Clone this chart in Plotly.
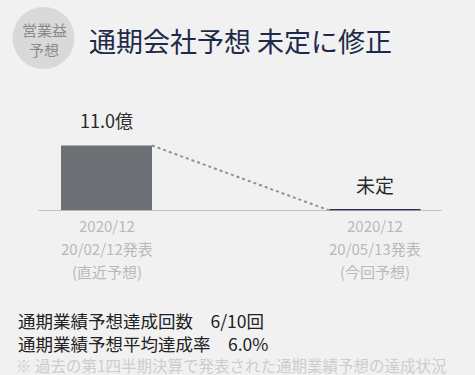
import plotly.graph_objects as go

# ---- data ----
tick_lines = [["2020/12", "20/02/12発表", "(直近予想)"],
              ["2020/12", "20/05/13発表", "(今回予想)"]]
values = [11.0, 0.22]          # second forecast is undetermined (shown as a flat marker)
value_labels = ["11.0億", "未定"]
bar_colors = ["#6d7075", "#2a3152"]
title_text = "通期会社予想 未定に修正"
badge_lines = ["営業益", "予想"]
stats_lines = ["通期業績予想達成回数　6/10回", "通期業績予想平均達成率　6.0%"]
footnote = "※ 過去の第1四半期決算で発表された通期業績予想の達成状況"

W, H = 475, 375
FONT = "Noto Sans CJK JP"
BG = "#f1f1f1"


def px(x):
    return x / W


def py(y):
    return 1 - y / H


# plot area geometry (pixels)
L, R = 38, 442
T, B = 100, 210.5
xpos = [0, 1]
c0, c1 = 106.5, 375.0
ppu = c1 - c0
x0 = (L - c0) / ppu
x1 = (R - c0) / ppu
bw = 91 / ppu
ymax = 11.0 * (B - T) / (B - 145.5)

fig = go.Figure()
fig.add_trace(go.Bar(x=xpos, y=values, width=bw,
                     marker=dict(color=bar_colors, line=dict(width=0)),
                     hoverinfo="skip"))
# dashed connector
fig.add_trace(go.Scatter(x=[xpos[0] + bw / 2, xpos[1] - bw / 2], y=[values[0], 0],
                         mode="lines", line=dict(color="#8e9196", width=2, dash="3px,3px"),
                         hoverinfo="skip"))

annotations = []
label_sizes = [18, 19]
label_shift = [10, 9]
for i, lab in enumerate(value_labels):
    annotations.append(dict(x=xpos[i], y=values[i], xref="x", yref="y", text=lab,
                            showarrow=False, xanchor="center", yanchor="bottom", yshift=label_shift[i],
                            font=dict(family=FONT, size=label_sizes[i], color="#2a2a2a")))
tick_y = [225, 248, 271]
for i, lines in enumerate(tick_lines):
    for j, ln in enumerate(lines):
        annotations.append(dict(x=xpos[i], y=py(tick_y[j]), xref="x", yref="paper",
                                text=ln, showarrow=False, xanchor="center", yanchor="middle",
                                font=dict(family=FONT, size=15, color="#b9b9b9")))

shapes = [
    dict(type="circle", xref="paper", yref="paper",
         x0=px(12.5), x1=px(74.5), y0=py(7), y1=py(69),
         fillcolor="#d9d9d9", line=dict(width=0), layer="below"),
    dict(type="line", xref="paper", yref="y", x0=px(L), x1=px(R), y0=0, y1=0,
         line=dict(color="#9a9a9a", width=1)),
]
badge_y = [30, 50]
for j, ln in enumerate(badge_lines):
    annotations.append(dict(x=px(44), y=py(badge_y[j]), xref="paper", yref="paper",
                            text=ln, showarrow=False, xanchor="center", yanchor="middle",
                            font=dict(family=FONT, size=15, color="#8a8a8a")))
annotations.append(dict(x=px(87), y=py(41), xref="paper", yref="paper",
                        xanchor="left", yanchor="middle", text=title_text, showarrow=False,
                        font=dict(family=FONT, size=27, color="#1e2a4a")))
stats_y = [320, 343]
for j, ln in enumerate(stats_lines):
    annotations.append(dict(x=px(16), y=py(stats_y[j]), xref="paper", yref="paper",
                            xanchor="left", yanchor="middle", text=ln, showarrow=False,
                            font=dict(family=FONT, size=17.5, color="#222222")))
annotations.append(dict(x=px(14), y=py(365), xref="paper", yref="paper",
                        xanchor="left", yanchor="middle", text=footnote, showarrow=False,
                        font=dict(family=FONT, size=15.5, color="#cdcdcd")))

fig.update_layout(
    width=W, height=H, paper_bgcolor=BG, plot_bgcolor=BG,
    margin=dict(l=0, r=0, t=0, b=0, pad=0, autoexpand=False),
    showlegend=False, annotations=annotations, shapes=shapes,
    xaxis=dict(domain=[px(L), px(R)], range=[x0, x1], showticklabels=False,
               showgrid=False, zeroline=False, fixedrange=True),
    yaxis=dict(domain=[py(B), py(T)], range=[0, ymax], showticklabels=False,
               showgrid=False, zeroline=False, fixedrange=True),
)
fig.write_html("out.html", config={"displayModeBar": False},
               post_script="document.body.style.margin='0';document.body.style.background='%s';" % BG)
